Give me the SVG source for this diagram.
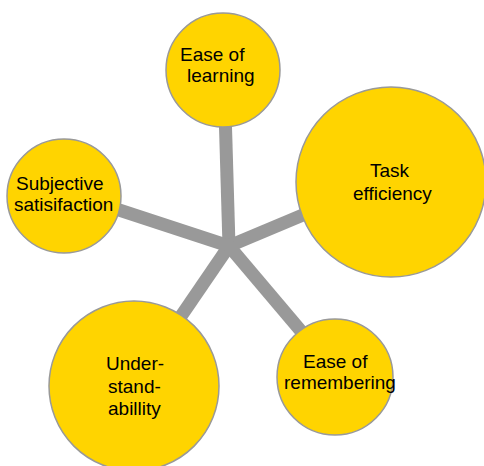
<svg xmlns="http://www.w3.org/2000/svg" width="484" height="466" viewBox="0 0 484 466">
<style>
.spoke{stroke:#999999;stroke-width:13;fill:none}
.node circle{fill:#FFD400;stroke:#999999;stroke-width:1.5}
.node text{font-family:"Liberation Sans",Arial,sans-serif;font-size:19px;fill:#000}
</style>
<rect width="484" height="466" fill="#ffffff"/>
<g id="connectors">
<line class="spoke" x1="229" y1="246" x2="225" y2="110"/>
<line class="spoke" x1="229" y1="246" x2="110" y2="207"/>
<line class="spoke" x1="229" y1="246" x2="310" y2="212"/>
<line class="spoke" x1="229" y1="246" x2="175" y2="325"/>
<line class="spoke" x1="229" y1="246" x2="306" y2="337"/>
</g>
<g id="ease-of-learning" class="node">
<circle cx="223" cy="70" r="57"/>
<text x="180" y="61">Ease of</text>
<text x="187" y="82">learning</text>
</g>
<g id="task-efficiency" class="node">
<circle cx="391" cy="182" r="95"/>
<text x="370" y="177">Task</text>
<text x="353" y="200">efficiency</text>
</g>
<g id="subjective-satisfaction" class="node">
<circle cx="64" cy="196" r="57"/>
<text x="16" y="190">Subjective</text>
<text x="14" y="211">satisifaction</text>
</g>
<g id="understandability" class="node">
<circle cx="134" cy="386" r="85"/>
<text x="106" y="370">Under-</text>
<text x="108" y="393">stand-</text>
<text x="108" y="415">abillity</text>
</g>
<g id="ease-of-remembering" class="node">
<circle cx="335" cy="377" r="58"/>
<text x="303" y="368">Ease of</text>
<text x="284" y="389">remembering</text>
</g>
</svg>
